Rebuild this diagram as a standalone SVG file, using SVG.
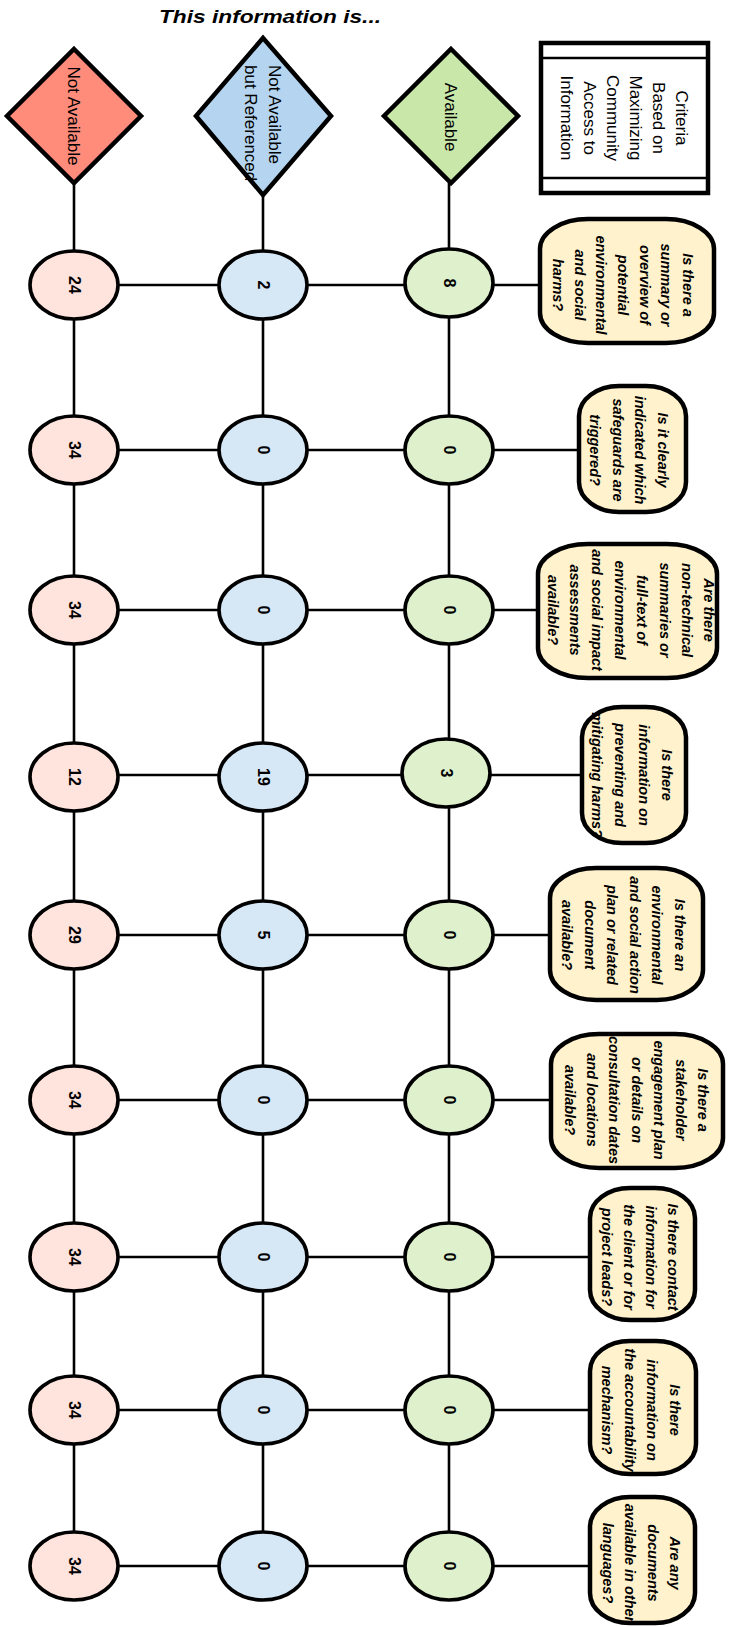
<svg xmlns="http://www.w3.org/2000/svg" width="734" height="1627" viewBox="0 0 734 1627">
<style>
.bg{fill:#fff}
.ln{stroke:#000;stroke-width:2.6;fill:none}
.dia{stroke:#000;stroke-width:4.5;stroke-linejoin:miter}
.cir{stroke:#000;stroke-width:3.6}
.q{fill:#FFF2CC;stroke:#000;stroke-width:4.5}
.crit{fill:#fff;stroke:#000;stroke-width:4.5}
.t{font-family:"Liberation Sans",Arial,sans-serif;fill:#000;dominant-baseline:central;text-anchor:middle}
.lab{font-size:17px}
.num{font-size:16px;font-weight:bold}
.qt{font-size:14.5px;font-weight:bold;font-style:italic}
.r{fill:#FFE3DD}.b{fill:#D6E7F6}.g{fill:#DEF0CC}
</style>
<rect class="bg" width="734" height="1627"/>
<text class="t" x="270" y="17" font-size="18" font-weight="bold" font-style="italic" textLength="222" lengthAdjust="spacingAndGlyphs">This information is...</text>

<g id="connectors">
<line class="ln" x1="74" y1="183" x2="74" y2="1566"/>
<line class="ln" x1="263" y1="195" x2="263" y2="1566"/>
<line class="ln" x1="449" y1="183" x2="449" y2="1566"/>
<line class="ln" x1="74" y1="285" x2="449" y2="285"/><line class="ln" x1="449" y1="285" x2="540" y2="285"/>
<line class="ln" x1="74" y1="450" x2="449" y2="450"/><line class="ln" x1="449" y1="450" x2="579" y2="450"/>
<line class="ln" x1="74" y1="610" x2="449" y2="610"/><line class="ln" x1="449" y1="610" x2="538" y2="610"/>
<line class="ln" x1="74" y1="775" x2="449" y2="775"/><line class="ln" x1="449" y1="775" x2="582" y2="775"/>
<line class="ln" x1="74" y1="935" x2="449" y2="935"/><line class="ln" x1="449" y1="935" x2="550" y2="935"/>
<line class="ln" x1="74" y1="1100" x2="449" y2="1100"/><line class="ln" x1="449" y1="1100" x2="551" y2="1100"/>
<line class="ln" x1="74" y1="1257" x2="449" y2="1257"/><line class="ln" x1="449" y1="1257" x2="590" y2="1257"/>
<line class="ln" x1="74" y1="1410" x2="449" y2="1410"/><line class="ln" x1="449" y1="1410" x2="590" y2="1410"/>
<line class="ln" x1="74" y1="1566" x2="449" y2="1566"/><line class="ln" x1="449" y1="1566" x2="590" y2="1566"/>
</g>

<g id="not-available">
<polygon class="dia" fill="#FF8B7A" points="74,49 141,116 74,183 7,116"/>
<text class="t lab" transform="translate(73,116) rotate(90)">Not Available</text>
</g>
<g id="not-available-referenced">
<polygon class="dia" fill="#B4D4EF" points="263,38 331,116 263,195 196,116"/>
<text class="t lab" transform="translate(263,116) rotate(90)" style="text-anchor:start"><tspan x="-51" y="-12">Not Available</tspan><tspan x="-51" y="12">but Referenced</tspan></text>
</g>
<g id="available">
<polygon class="dia" fill="#C8E7A9" points="451,49 518,116 451,183 384,116"/>
<text class="t lab" transform="translate(450,117) rotate(90)">Available</text>
</g>
<g id="criteria">
<rect class="crit" x="541" y="43" width="167" height="150"/>
<line class="ln" stroke-width="3.5" x1="541" y1="58" x2="708" y2="58"/>
<line class="ln" stroke-width="3.5" x1="541" y1="178" x2="708" y2="178"/>
<text class="t" font-size="17" transform="translate(624,118) rotate(90)"><tspan x="0" y="-57.5">Criteria</tspan><tspan x="0" y="-34.5">Based on</tspan><tspan x="0" y="-11.5">Maximizing</tspan><tspan x="0" y="11.5">Community</tspan><tspan x="0" y="34.5">Access to</tspan><tspan x="0" y="57.5">Information</tspan></text>
</g>

<g id="q1">
<rect class="q" x="540" y="219" width="174" height="124" rx="48" ry="30"/>
<text class="t qt" transform="translate(623,285) rotate(90)"><tspan x="0" y="-65.1">Is there a</tspan><tspan x="0" y="-43.4">summary or</tspan><tspan x="0" y="-21.7">overview of</tspan><tspan x="0" y="0">potential</tspan><tspan x="0" y="21.7">environmental</tspan><tspan x="0" y="43.4">and social</tspan><tspan x="0" y="65.1">harms?</tspan></text>
</g>
<g id="q2">
<rect class="q" x="579" y="386" width="107" height="126" rx="40" ry="30"/>
<text class="t qt" transform="translate(629,450) rotate(90)"><tspan x="0" y="-34">Is it clearly</tspan><tspan x="0" y="-11.3">indicated which</tspan><tspan x="0" y="11.3">safeguards are</tspan><tspan x="0" y="34">triggered?</tspan></text>
</g>
<g id="q3">
<rect class="q" x="538" y="544" width="179" height="134" rx="50" ry="30"/>
<text class="t qt" transform="translate(631,610) rotate(90)"><tspan x="0" y="-78.4">Are there</tspan><tspan x="0" y="-56">non-technical</tspan><tspan x="0" y="-33.6">summaries or</tspan><tspan x="0" y="-11.2">full-text of</tspan><tspan x="0" y="11.2">environmental</tspan><tspan x="0" y="33.6">and social impact</tspan><tspan x="0" y="56">assessments</tspan><tspan x="0" y="78.4">available?</tspan></text>
</g>
<g id="q4">
<rect class="q" x="582" y="707" width="104" height="136" rx="40" ry="30"/>
<text class="t qt" transform="translate(632,775) rotate(90)"><tspan x="0" y="-35">Is there</tspan><tspan x="0" y="-11.7">information on</tspan><tspan x="0" y="11.7">preventing and</tspan><tspan x="0" y="35">mitigating harms?</tspan></text>
</g>
<g id="q5">
<rect class="q" x="550" y="868" width="153" height="132" rx="46" ry="30"/>
<text class="t qt" transform="translate(623.5,935) rotate(90)"><tspan x="0" y="-56.5">Is there an</tspan><tspan x="0" y="-33.9">environmental</tspan><tspan x="0" y="-11.3">and social action</tspan><tspan x="0" y="11.3">plan or related</tspan><tspan x="0" y="33.9">document</tspan><tspan x="0" y="56.5">available?</tspan></text>
</g>
<g id="q6">
<rect class="q" x="551" y="1034" width="172" height="134" rx="48" ry="30"/>
<text class="t qt" transform="translate(636.5,1100) rotate(90)"><tspan x="0" y="-66.6">Is there a</tspan><tspan x="0" y="-44.4">stakeholder</tspan><tspan x="0" y="-22.2">engagement plan</tspan><tspan x="0" y="0">or details on</tspan><tspan x="0" y="22.2">consultation dates</tspan><tspan x="0" y="44.4">and locations</tspan><tspan x="0" y="66.6">available?</tspan></text>
</g>
<g id="q7">
<rect class="q" x="590" y="1188" width="105" height="132" rx="40" ry="30"/>
<text class="t qt" transform="translate(640,1257) rotate(90)"><tspan x="0" y="-33">Is there contact</tspan><tspan x="0" y="-11">information for</tspan><tspan x="0" y="11">the client or for</tspan><tspan x="0" y="33">project leads?</tspan></text>
</g>
<g id="q8">
<rect class="q" x="590" y="1341" width="106" height="133" rx="40" ry="30"/>
<text class="t qt" transform="translate(641,1410) rotate(90)"><tspan x="0" y="-34">Is there</tspan><tspan x="0" y="-11.3">information on</tspan><tspan x="0" y="11.3">the accountability</tspan><tspan x="0" y="34">mechanism?</tspan></text>
</g>
<g id="q9">
<rect class="q" x="590" y="1497" width="105" height="126" rx="40" ry="30"/>
<text class="t qt" transform="translate(641.5,1563) rotate(90)"><tspan x="0" y="-33.5">Are any</tspan><tspan x="0" y="-11.2">documents</tspan><tspan x="0" y="11.2">available in other</tspan><tspan x="0" y="33.5">languages?</tspan></text>
</g>

<g id="r1"><ellipse class="cir r" cx="74" cy="285" rx="44" ry="34"/><text class="t num" transform="translate(74,285) rotate(90)">24</text></g>
<g id="b1"><ellipse class="cir b" cx="263" cy="285" rx="44" ry="34"/><text class="t num" transform="translate(263,285) rotate(90)">2</text></g>
<g id="g1"><ellipse class="cir g" cx="449" cy="283" rx="44" ry="34"/><text class="t num" transform="translate(449,283) rotate(90)">8</text></g>

<g id="r2"><ellipse class="cir r" cx="74" cy="450" rx="44" ry="34"/><text class="t num" transform="translate(74,450) rotate(90)">34</text></g>
<g id="b2"><ellipse class="cir b" cx="263" cy="450" rx="44" ry="34"/><text class="t num" transform="translate(263,450) rotate(90)">0</text></g>
<g id="g2"><ellipse class="cir g" cx="449" cy="450" rx="44" ry="34"/><text class="t num" transform="translate(449,450) rotate(90)">0</text></g>

<g id="r3"><ellipse class="cir r" cx="74" cy="610" rx="44" ry="34"/><text class="t num" transform="translate(74,610) rotate(90)">34</text></g>
<g id="b3"><ellipse class="cir b" cx="263" cy="610" rx="44" ry="34"/><text class="t num" transform="translate(263,610) rotate(90)">0</text></g>
<g id="g3"><ellipse class="cir g" cx="449" cy="610" rx="44" ry="34"/><text class="t num" transform="translate(449,610) rotate(90)">0</text></g>

<g id="r4"><ellipse class="cir r" cx="74" cy="777" rx="44" ry="34"/><text class="t num" transform="translate(74,777) rotate(90)">12</text></g>
<g id="b4"><ellipse class="cir b" cx="263" cy="777" rx="44" ry="34"/><text class="t num" transform="translate(263,777) rotate(90)">19</text></g>
<g id="g4"><ellipse class="cir g" cx="446" cy="773" rx="44" ry="34"/><text class="t num" transform="translate(446,773) rotate(90)">3</text></g>

<g id="r5"><ellipse class="cir r" cx="74" cy="935" rx="44" ry="34"/><text class="t num" transform="translate(74,935) rotate(90)">29</text></g>
<g id="b5"><ellipse class="cir b" cx="263" cy="935" rx="44" ry="34"/><text class="t num" transform="translate(263,935) rotate(90)">5</text></g>
<g id="g5"><ellipse class="cir g" cx="449" cy="935" rx="44" ry="34"/><text class="t num" transform="translate(449,935) rotate(90)">0</text></g>

<g id="r6"><ellipse class="cir r" cx="74" cy="1100" rx="44" ry="34"/><text class="t num" transform="translate(74,1100) rotate(90)">34</text></g>
<g id="b6"><ellipse class="cir b" cx="263" cy="1100" rx="44" ry="34"/><text class="t num" transform="translate(263,1100) rotate(90)">0</text></g>
<g id="g6"><ellipse class="cir g" cx="449" cy="1100" rx="44" ry="34"/><text class="t num" transform="translate(449,1100) rotate(90)">0</text></g>

<g id="r7"><ellipse class="cir r" cx="74" cy="1257" rx="44" ry="34"/><text class="t num" transform="translate(74,1257) rotate(90)">34</text></g>
<g id="b7"><ellipse class="cir b" cx="263" cy="1257" rx="44" ry="34"/><text class="t num" transform="translate(263,1257) rotate(90)">0</text></g>
<g id="g7"><ellipse class="cir g" cx="449" cy="1257" rx="44" ry="34"/><text class="t num" transform="translate(449,1257) rotate(90)">0</text></g>

<g id="r8"><ellipse class="cir r" cx="74" cy="1410" rx="44" ry="34"/><text class="t num" transform="translate(74,1410) rotate(90)">34</text></g>
<g id="b8"><ellipse class="cir b" cx="263" cy="1410" rx="44" ry="34"/><text class="t num" transform="translate(263,1410) rotate(90)">0</text></g>
<g id="g8"><ellipse class="cir g" cx="449" cy="1410" rx="44" ry="34"/><text class="t num" transform="translate(449,1410) rotate(90)">0</text></g>

<g id="r9"><ellipse class="cir r" cx="74" cy="1566" rx="44" ry="34"/><text class="t num" transform="translate(74,1566) rotate(90)">34</text></g>
<g id="b9"><ellipse class="cir b" cx="263" cy="1566" rx="44" ry="34"/><text class="t num" transform="translate(263,1566) rotate(90)">0</text></g>
<g id="g9"><ellipse class="cir g" cx="449" cy="1566" rx="44" ry="34"/><text class="t num" transform="translate(449,1566) rotate(90)">0</text></g>
</svg>
